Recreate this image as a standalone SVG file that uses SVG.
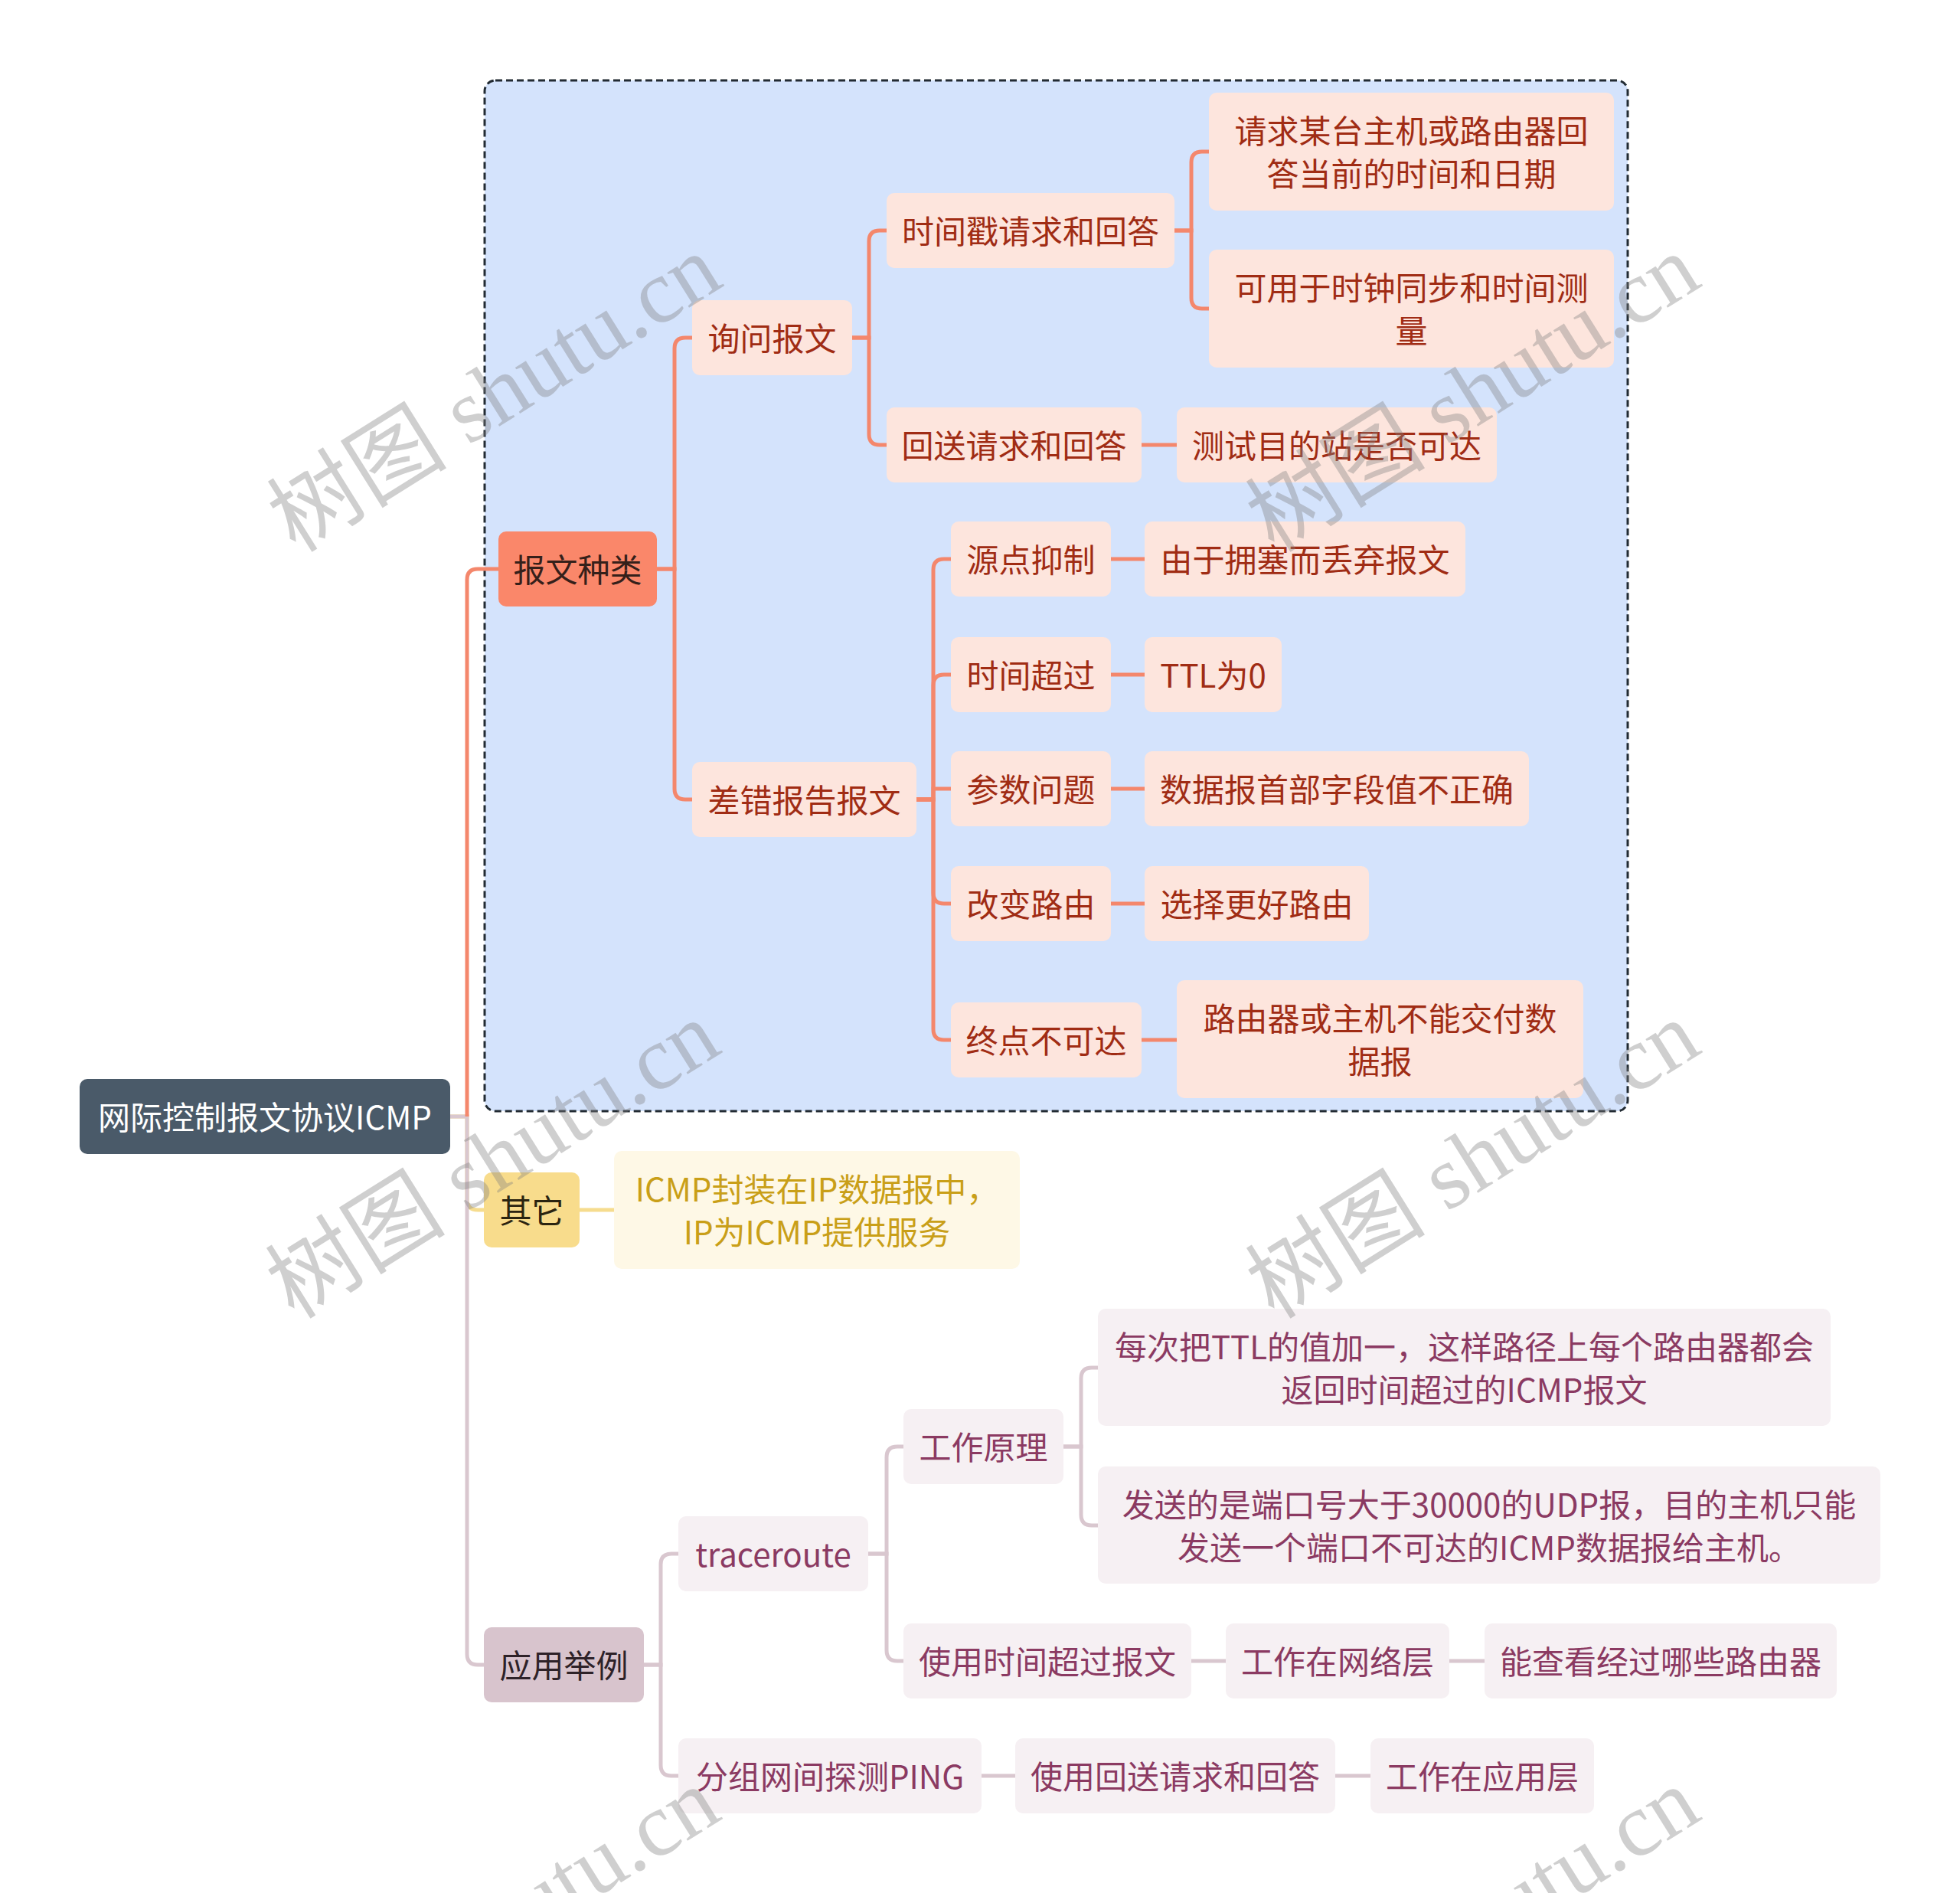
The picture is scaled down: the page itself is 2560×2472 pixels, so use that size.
<svg xmlns="http://www.w3.org/2000/svg" width="2560" height="2472" viewBox="0 0 2560 2472">
<style>
text{font-family:"Noto Sans CJK SC","Noto Sans",sans-serif;font-size:42px;text-anchor:middle;dominant-baseline:central}
.root rect{fill:#4a5a69}
.root text{fill:#ffffff}
.m1 rect{fill:#fa876a}
.m1 text{fill:#35201a}
.s1 rect{fill:#fde5dd}
.s1 text{fill:#a02c14}
.m2 rect{fill:#f8dc8c}
.m2 text{fill:#2b2410}
.s2 rect{fill:#fef8e6}
.s2 text{fill:#c99f18}
.m3 rect{fill:#d8c4cd}
.m3 text{fill:#2e2228}
.s3 rect{fill:#f6f0f3}
.s3 text{fill:#8b3a62}
.c1{fill:none;stroke:#f4876c;stroke-width:5}
.c2{fill:none;stroke:#f6dc8e;stroke-width:5}
.c3{fill:none;stroke:#d9c7cf;stroke-width:5}
.wm{font-family:"Liberation Serif","Noto Sans CJK SC",serif;font-size:118px;fill:#808080;fill-opacity:0.38}
</style>
<rect x="0" y="0" width="2560" height="2472" fill="#ffffff"/>
<rect x="633" y="105" width="1493" height="1346" rx="14" fill="#d4e3fc" stroke="#222b33" stroke-width="3" stroke-dasharray="9 5"/>
<g id="connectors">
<path class="c2" d="M588,1458 H610 V1566 Q610,1580 624,1580 H632"/>
<path class="c3" d="M588,1458 H610 V2160 Q610,2174 624,2174 H632"/>
<path class="c1" d="M610,1458 V757 Q610,743 624,743 H651"/>
<path class="c1" d="M858,743 H881 V455 Q881,441 895,441 H904"/>
<path class="c1" d="M858,743 H881 V1030 Q881,1044 895,1044 H904"/>
<path class="c1" d="M1113,441 H1135 V315 Q1135,301 1149,301 H1158"/>
<path class="c1" d="M1113,441 H1135 V567 Q1135,581 1149,581 H1158"/>
<path class="c1" d="M1534,301 H1556 V212 Q1556,198 1570,198 H1579"/>
<path class="c1" d="M1534,301 H1556 V389 Q1556,403 1570,403 H1579"/>
<path class="c1" d="M1491,581 H1537"/>
<path class="c1" d="M1197,1044 H1219 V744 Q1219,730 1233,730 H1242"/>
<path class="c1" d="M1197,1044 H1219 V895 Q1219,881 1233,881 H1242"/>
<path class="c1" d="M1197,1044 H1219 V1030 Q1219,1030 1233,1030 H1242"/>
<path class="c1" d="M1197,1044 H1219 V1166 Q1219,1180 1233,1180 H1242"/>
<path class="c1" d="M1197,1044 H1219 V1344 Q1219,1358 1233,1358 H1242"/>
<path class="c1" d="M1451,730 H1495"/>
<path class="c1" d="M1451,881 H1495"/>
<path class="c1" d="M1451,1030 H1495"/>
<path class="c1" d="M1451,1180 H1495"/>
<path class="c1" d="M1491,1358 H1537"/>
<path class="c2" d="M757,1580 H802"/>
<path class="c3" d="M841,2174 H863 V2043 Q863,2029 877,2029 H886"/>
<path class="c3" d="M841,2174 H863 V2305 Q863,2319 877,2319 H886"/>
<path class="c3" d="M1134,2029 H1158 V1903 Q1158,1889 1172,1889 H1180"/>
<path class="c3" d="M1134,2029 H1158 V2155 Q1158,2169 1172,2169 H1180"/>
<path class="c3" d="M1389,1889 H1412 V1800 Q1412,1786 1426,1786 H1434"/>
<path class="c3" d="M1389,1889 H1412 V1978 Q1412,1992 1426,1992 H1434"/>
<path class="c3" d="M1556,2169 H1601"/>
<path class="c3" d="M1893,2169 H1939"/>
<path class="c3" d="M1282,2319 H1326"/>
<path class="c3" d="M1744,2319 H1790"/>
</g>
<g id="root" class="root"><rect x="104" y="1409" width="484" height="98" rx="10"/><text x="346" y="1456">网际控制报文协议ICMP</text></g>
<g id="n1" class="m1"><rect x="651" y="694" width="207" height="98" rx="10"/><text x="754.5" y="741">报文种类</text></g>
<g id="n11" class="s1"><rect x="904" y="392" width="209" height="98" rx="10"/><text x="1008.5" y="439">询问报文</text></g>
<g id="n111" class="s1"><rect x="1158" y="252" width="376" height="98" rx="10"/><text x="1346" y="299">时间戳请求和回答</text></g>
<g id="n1111" class="s1"><rect x="1579" y="121" width="529" height="154" rx="10"/><text x="1843.5" y="168">请求某台主机或路由器回</text><text x="1843.5" y="224">答当前的时间和日期</text></g>
<g id="n1112" class="s1"><rect x="1579" y="326" width="529" height="154" rx="10"/><text x="1843.5" y="373">可用于时钟同步和时间测</text><text x="1843.5" y="429">量</text></g>
<g id="n112" class="s1"><rect x="1158" y="532" width="333" height="98" rx="10"/><text x="1324.5" y="579">回送请求和回答</text></g>
<g id="n1121" class="s1"><rect x="1537" y="532" width="418" height="98" rx="10"/><text x="1746" y="579">测试目的站是否可达</text></g>
<g id="n12" class="s1"><rect x="904" y="995" width="293" height="98" rx="10"/><text x="1050.5" y="1042">差错报告报文</text></g>
<g id="n121" class="s1"><rect x="1242" y="681" width="209" height="98" rx="10"/><text x="1346.5" y="728">源点抑制</text></g>
<g id="n1211" class="s1"><rect x="1495" y="681" width="419" height="98" rx="10"/><text x="1704.5" y="728">由于拥塞而丢弃报文</text></g>
<g id="n122" class="s1"><rect x="1242" y="832" width="209" height="98" rx="10"/><text x="1346.5" y="879">时间超过</text></g>
<g id="n1221" class="s1"><rect x="1495" y="832" width="179" height="98" rx="10"/><text x="1584.5" y="879">TTL为0</text></g>
<g id="n123" class="s1"><rect x="1242" y="981" width="209" height="98" rx="10"/><text x="1346.5" y="1028">参数问题</text></g>
<g id="n1231" class="s1"><rect x="1495" y="981" width="502" height="98" rx="10"/><text x="1746" y="1028">数据报首部字段值不正确</text></g>
<g id="n124" class="s1"><rect x="1242" y="1131" width="209" height="98" rx="10"/><text x="1346.5" y="1178">改变路由</text></g>
<g id="n1241" class="s1"><rect x="1495" y="1131" width="293" height="98" rx="10"/><text x="1641.5" y="1178">选择更好路由</text></g>
<g id="n125" class="s1"><rect x="1242" y="1309" width="249" height="98" rx="10"/><text x="1366.5" y="1356">终点不可达</text></g>
<g id="n1251" class="s1"><rect x="1537" y="1280" width="531" height="154" rx="10"/><text x="1802.5" y="1327">路由器或主机不能交付数</text><text x="1802.5" y="1383">据报</text></g>
<g id="n2" class="m2"><rect x="632" y="1531" width="125" height="98" rx="10"/><text x="694.5" y="1578">其它</text></g>
<g id="n21" class="s2"><rect x="802" y="1503" width="530" height="154" rx="10"/><text x="1067" y="1550">ICMP封装在IP数据报中，</text><text x="1067" y="1606">IP为ICMP提供服务</text></g>
<g id="n3" class="m3"><rect x="632" y="2125" width="209" height="98" rx="10"/><text x="736.5" y="2172">应用举例</text></g>
<g id="n31" class="s3"><rect x="886" y="1980" width="248" height="98" rx="10"/><text x="1010" y="2027">traceroute</text></g>
<g id="n311" class="s3"><rect x="1180" y="1840" width="209" height="98" rx="10"/><text x="1284.5" y="1887">工作原理</text></g>
<g id="n3111" class="s3"><rect x="1434" y="1709" width="957" height="153" rx="10"/><text x="1912.5" y="1756">每次把TTL的值加一，这样路径上每个路由器都会</text><text x="1912.5" y="1812">返回时间超过的ICMP报文</text></g>
<g id="n3112" class="s3"><rect x="1434" y="1915" width="1022" height="153" rx="10"/><text x="1945" y="1962">发送的是端口号大于30000的UDP报，目的主机只能</text><text x="1945" y="2018">发送一个端口不可达的ICMP数据报给主机。</text></g>
<g id="n312" class="s3"><rect x="1180" y="2120" width="376" height="98" rx="10"/><text x="1368" y="2167">使用时间超过报文</text></g>
<g id="n3121" class="s3"><rect x="1601" y="2120" width="292" height="98" rx="10"/><text x="1747" y="2167">工作在网络层</text></g>
<g id="n3122" class="s3"><rect x="1939" y="2120" width="460" height="98" rx="10"/><text x="2169" y="2167">能查看经过哪些路由器</text></g>
<g id="n32" class="s3"><rect x="886" y="2270" width="396" height="98" rx="10"/><text x="1084" y="2317">分组网间探测PING</text></g>
<g id="n321" class="s3"><rect x="1326" y="2270" width="418" height="98" rx="10"/><text x="1535" y="2317">使用回送请求和回答</text></g>
<g id="n3211" class="s3"><rect x="1790" y="2270" width="292" height="98" rx="10"/><text x="1936" y="2317">工作在应用层</text></g>
<g id="watermarks">
<text class="wm" transform="translate(646,514) rotate(-32)">树图 shutu.cn</text>
<text class="wm" transform="translate(1924,514) rotate(-32)">树图 shutu.cn</text>
<text class="wm" transform="translate(644,1515) rotate(-32)">树图 shutu.cn</text>
<text class="wm" transform="translate(1924,1515) rotate(-32)">树图 shutu.cn</text>
<text class="wm" transform="translate(644,2516) rotate(-32)">树图 shutu.cn</text>
<text class="wm" transform="translate(1924,2516) rotate(-32)">树图 shutu.cn</text>
</g>
</svg>
